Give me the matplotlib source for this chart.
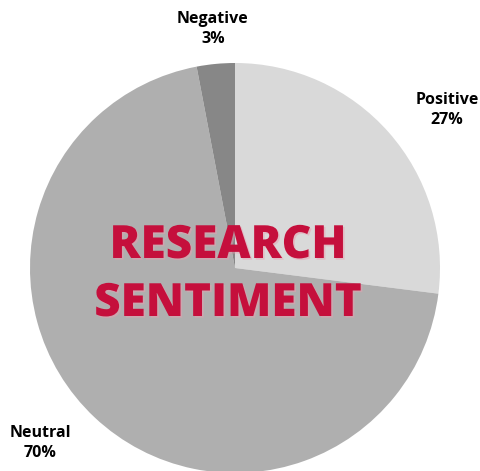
import numpy as np
import matplotlib.pyplot as plt
import matplotlib.patheffects as pe

labels = ["Positive", "Neutral", "Negative"]
shares = [27, 70, 3]
colors = ["#d9d9d9", "#afafaf", "#878787"]

W, H = 481, 471
fig = plt.figure(figsize=(W / 100, H / 100), dpi=100)
ax = fig.add_axes([0, 0, 1, 1])

cx, cy, r = 235, H - 268, 205
wedges, _ = ax.pie(shares, colors=colors, startangle=90, counterclock=False,
                   center=(cx, cy), radius=r, frame=True,
                   wedgeprops=dict(linewidth=0))
ax.set_xlim(0, W)
ax.set_ylim(0, H)
ax.set_aspect("equal")
ax.axis("off")

# label positions (pixels from top-left)
label_pos = {"Positive": (447, 110), "Neutral": (40, 443), "Negative": (213, 29)}
for lab, val in zip(labels, shares):
    x, y = label_pos[lab]
    ax.text(x, H - y, f"{lab}\n{val}%", ha="center", va="center",
            fontsize=11.5, fontweight="bold", family="Open Sans",
            color="black", linespacing=1.4)

shadow = [pe.SimplePatchShadow(offset=(1.2, -1.2), shadow_rgbFace="#e8a0b0", alpha=0.5),
          pe.Normal()]
for line, y in [("RESEARCH", 246), ("SENTIMENT", 304)]:
    t = ax.text(228, H - y, line, ha="center", va="center",
                fontsize=33, fontweight="heavy", family="Open Sans",
                color="#c50f3c")
    t.set_path_effects(shadow)

fig.savefig("out.png", dpi=100, facecolor="white")
